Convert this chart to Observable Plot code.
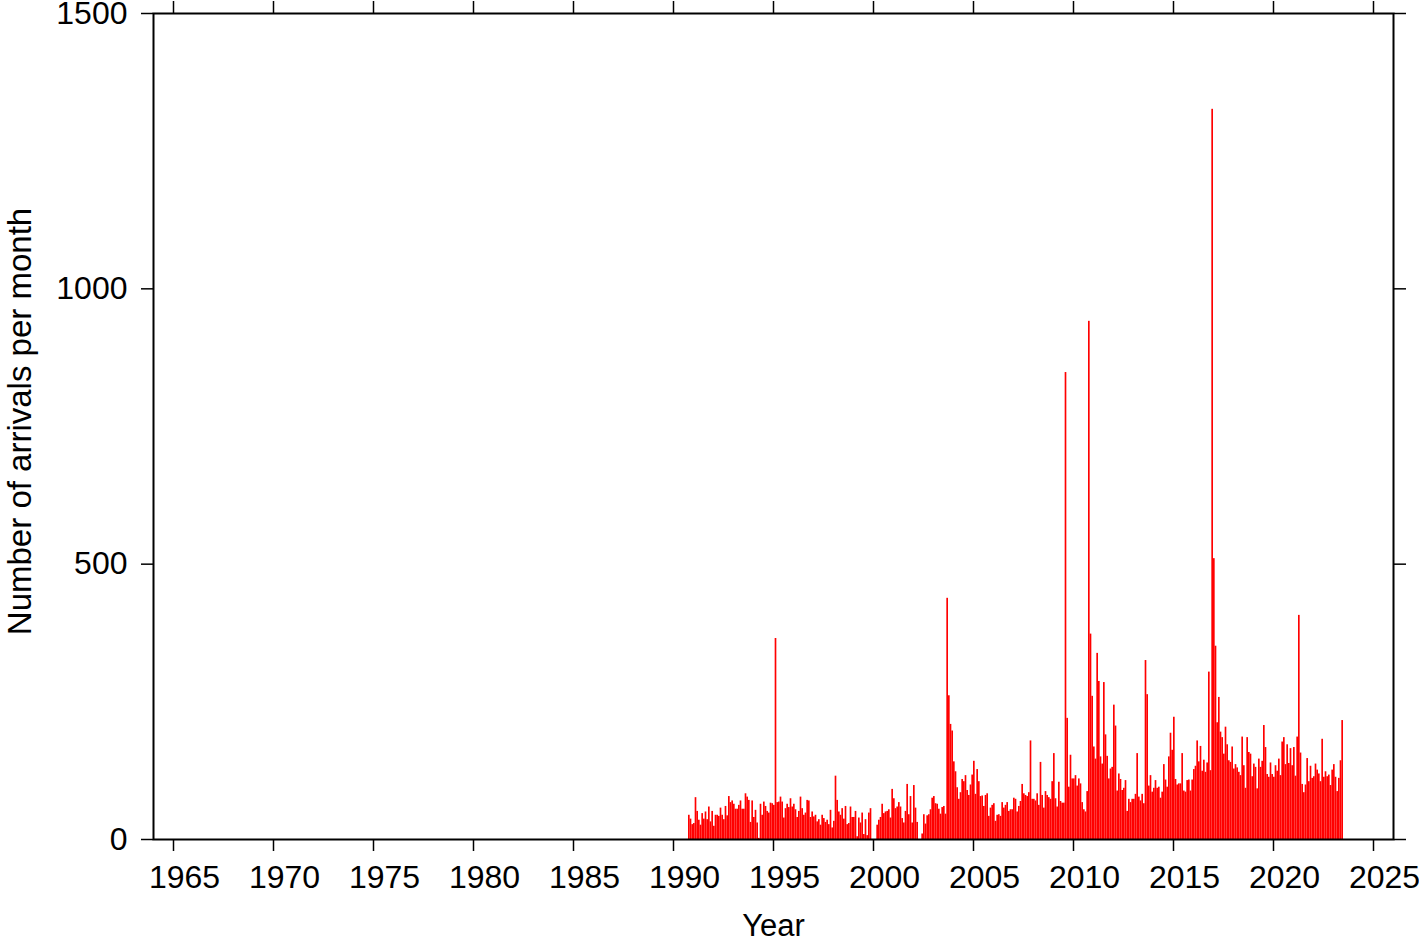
<!DOCTYPE html>
<html>
<head>
<meta charset="utf-8">
<script src="https://cdn.jsdelivr.net/npm/d3@7"></script>
<script src="https://cdn.jsdelivr.net/npm/@observablehq/plot@0.6"></script>
<style>
  html, body { margin: 0; padding: 0; background: #fff; }
  #chart { width: 1419px; height: 942px; overflow: hidden; }
</style>
</head>
<body>
<div id="chart"></div>
<script>
// First month of the series (October 1990), one value per month
const startYear = 1990;
const startMonth = 10;

const arrivals1990s = [44,37,27,29,76,51,35,26,47,37,50,36,59,32,51,24,44,44,42,57,44,36,60,43,78,67,70,64,55,55,62,70,55,55,83,77,71,31,70,40,53,30,2,64,44,68,60,51,48,66,65,62,365,67,68,77,68,39,56,64,58,74,59,64,54,40,51];
const arrivals1996 = [77,56,44,48,71,70,40,50,41,44,32,36,26,44,38,31,35,27,53,21,33,115,71,50,44,56,37,60,27,29,59,40,40,51,5,39,30,48,9,36,7,48,56,0,0,0,26,35,40,64,47,50,51,54,39,91,74,56,59,67,59,38,30,51,100,45];
const arrivals2001 = [78,30,98,57,31,0,0,10,45,28,43,45,54,75,78,65,64,55,46,58,60,46,438,261,209,197,141,123,94,73,85,109,105,116,89,80,99,117,142,82,127,105,78,79,60,80,83,42,57,62,65,33,44,45,42,67,57,62,67,51,54,54,75,73,50,60,69,100,83,80,78,85];
const arrivals2007 = [179,73,73,70,83,62,140,80,57,87,80,76,73,105,156,74,59,104,69,66,66,848,220,95,153,110,110,116,97,110,101,67,54,50,87,941,373,260,168,146,338,287,150,137,285,190,151,110,128,131,244,206,88,119,109,89,93,107,51,73,67,73,73];
const arrivals2013 = [82,156,77,70,82,65,325,263,97,116,86,93,107,93,95,75,86,136,108,95,150,193,162,222,109,99,101,101,156,88,86,107,108,88,108,127,133,179,141,169,124,144,122,139,304,125,1326,510,351,212,258,195,185,155,204,172,143,140,168,128,136,130,122];
const arrivals2018 = [116,186,134,93,185,158,155,114,137,131,92,146,131,142,207,167,118,113,139,118,113,134,124,146,116,177,185,136,172,138,165,134,167,115,186,407,157,100,85,99,147,105,133,111,114,137,126,119,105,182,113,123,114,117,98,126,136,113,87,111,143,216];

const xTicks = [1965,1970,1975,1980,1985,1990,1995,2000,2005,2010,2015,2020,2025];
const yTicks = [0,500,1000,1500];
const xLabel = "Year";
const yLabel = "Number of arrivals per month";

const values = [].concat(arrivals1990s, arrivals1996, arrivals2001, arrivals2007, arrivals2013, arrivals2018);
const data = values.map((v, i) => {
  const m = startMonth - 1 + i;
  return {t0: startYear + m / 12, t1: startYear + (m + 1) / 12, v};
});

const font = "'Liberation Sans', Arial, Helvetica, sans-serif";

const chart = Plot.plot({
  width: 1419,
  height: 942,
  marginLeft: 153,
  marginRight: 26,
  marginTop: 13,
  marginBottom: 103,
  x: {domain: [1964, 2026]},
  y: {domain: [0, 1500]},
  style: {fontFamily: font, fontSize: "32px", color: "black", background: "white", overflow: "visible"},
  marks: [
    Plot.rectY(data, {x1: "t0", x2: "t1", y: "v", fill: "#ff0000"}),
    Plot.frame({stroke: "black", strokeWidth: 2}),
    Plot.axisX({anchor: "bottom", ticks: xTicks, tickSize: 12, tickFormat: () => "", label: null, strokeWidth: 1.5}),
    Plot.text(xTicks, {x: d => d, text: d => String(d), frameAnchor: "bottom", dy: 26, dx: 11, lineAnchor: "top", textAnchor: "middle", fontSize: 32, fill: "black"}),
    Plot.axisX({anchor: "top", ticks: xTicks, tickSize: 13, tickFormat: () => "", label: null, strokeWidth: 1.5}),
    Plot.axisY({anchor: "left", ticks: yTicks, tickSize: 12, tickPadding: 14, label: null, fontSize: 32, strokeWidth: 1.5, tickFormat: d => String(d)}),
    Plot.axisY({anchor: "right", ticks: yTicks, tickSize: 12, tickFormat: () => "", label: null, strokeWidth: 1.5}),
    Plot.text([xLabel], {frameAnchor: "bottom", dy: 96, lineAnchor: "bottom", textAnchor: "middle", fontSize: 31, fill: "black"}),
    Plot.text([yLabel], {frameAnchor: "left", dx: -123, dy: -5, rotate: -90, lineAnchor: "bottom", textAnchor: "middle", fontSize: 33, fill: "black"})
  ]
});
document.getElementById("chart").appendChild(chart);
</script>
</body>
</html>
